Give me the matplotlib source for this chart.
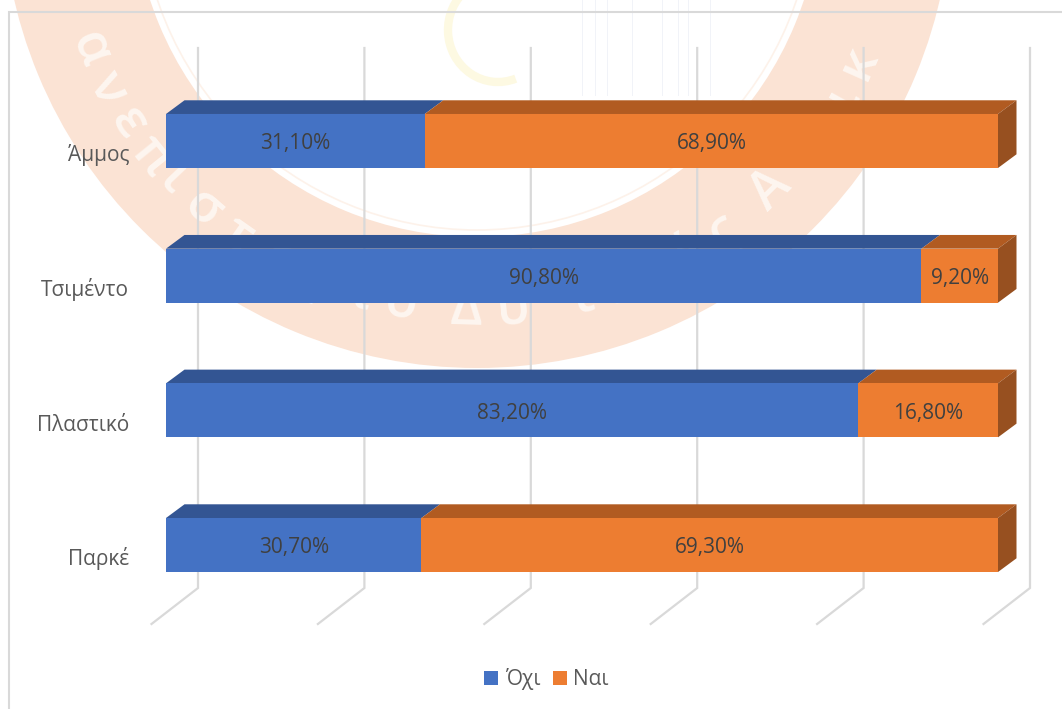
import numpy as np
import matplotlib
matplotlib.use("Agg")
import matplotlib.pyplot as plt
from matplotlib.patches import Polygon, Patch, Wedge, Arc, Circle
from matplotlib.transforms import ScaledTranslation

categories = ["Άμμος", "Τσιμέντο", "Πλαστικό", "Παρκέ"]
no_values = [31.1, 90.8, 83.2, 30.7]
yes_values = [68.9, 9.2, 16.8, 69.3]
series_names = ["Όχι", "Ναι"]
grid_values = [0, 20, 40, 60, 80, 100]

# watermark letters and their angle around the seal (deg, 0 = straight down)
seal_letters = list("ανεπιστήμιοΔυτικήςΑττικ")
seal_angles = [-68, -62, -56.5, -51, -46.5, -41, -35, -28, -21, -16, -10.5,
               -1.5, 5, 14.5, 19, 24, 30, 36, 44.6, 51, 56, 61, 66]
faint_x = [582, 595, 607, 632, 662, 678, 688, 710]

plt.rcParams["font.family"] = ["Open Sans", "DejaVu Sans"]

W, H = 1062, 709
fig = plt.figure(figsize=(W / 100, H / 100), dpi=100, facecolor="white")

# background layer in pixel coordinates: seal watermark and chart border
bg = fig.add_axes([0, 0, 1, 1], zorder=0)
bg.set_xlim(0, W)
bg.set_ylim(H, 0)
bg.axis("off")
cx, cy = 477, -107
bg.add_patch(Wedge((cx, cy), 475, 0, 360, width=131, fc="#fbe3d4", ec="none"))
bg.add_patch(Circle((cx, cy), 337, fc="none", ec="#fdf2ea", lw=1.2))
for letter, ang in zip(seal_letters, seal_angles):
    a = np.radians(ang)
    bg.text(cx + 418 * np.sin(a), cy + 418 * np.cos(a), letter, fontsize=38,
            color="#fef6f0", rotation=ang, rotation_mode="anchor",
            ha="center", va="center", fontweight="semibold")
bg.add_patch(Arc((498, 30), 100, 104, theta1=70, theta2=285, ec="#fdf9e2", lw=6))
for x in faint_x:
    bg.plot([x, x], [0, 95], color="#f1f3f8", lw=0.7)
bg.plot([9, 9, W], [H, 12, 12], color="#d9d9d9", lw=1.5, solid_joinstyle="miter")

# chart layer: 0-100 spans the front face of the bars
ax = fig.add_axes([166 / W, 0, 832 / W, 1], zorder=1)
ax.patch.set_alpha(0)
px_y = 134.67
ax.set_xlim(0, 100)
ax.set_ylim((545 - H) / px_y, 545 / px_y)
for s in ax.spines.values():
    s.set_visible(False)
ax.xaxis.set_visible(False)

y_pos = np.arange(len(categories))[::-1]
bar_h = 54 / px_y
dx = 18.5 / 8.32
dy = 13.7 / px_y

# back wall and floor gridlines
wall_dx = 32 / 8.32
floor_dx = -14.5 / 8.32
wall_top = (545 - 48) / px_y
wall_bot = (545 - 588) / px_y
floor_y = (545 - 624) / px_y
for g in grid_values:
    ax.plot([g + wall_dx, g + wall_dx, g + floor_dx], [wall_top, wall_bot, floor_y],
            color="#d9d9d9", lw=1.6, clip_on=False, zorder=1,
            solid_joinstyle="miter")

blue, blue_top = "#4472C4", "#335593"
orange, orange_top, orange_side = "#ED7D31", "#B15B21", "#975020"

ax.barh(y_pos, no_values, height=bar_h, color=blue, zorder=3)
ax.barh(y_pos, yes_values, left=no_values, height=bar_h, color=orange, zorder=3)

base = 8.5 / px_y  # label baseline below the bar centre
for y, n, v in zip(y_pos, no_values, yes_values):
    top = y + bar_h / 2
    bot = y - bar_h / 2
    end = n + v
    ax.add_patch(Polygon([(0, top), (n, top), (n + dx, top + dy), (dx, top + dy)],
                         fc=blue_top, ec="none", zorder=2, clip_on=False))
    ax.add_patch(Polygon([(n, top), (end, top), (end + dx, top + dy), (n + dx, top + dy)],
                         fc=orange_top, ec="none", zorder=2, clip_on=False))
    ax.add_patch(Polygon([(end, top), (end + dx, top + dy), (end + dx, bot + dy), (end, bot)],
                         fc=orange_side, ec="none", zorder=2, clip_on=False))
    ax.text(n / 2, y - base, f"{n:.2f}".replace(".", ",") + "%", ha="center",
            va="baseline", fontsize=15, color="#404040", zorder=4)
    ax.text(n + v / 2, y - base, f"{v:.2f}".replace(".", ",") + "%", ha="center",
            va="baseline", fontsize=15, color="#404040", zorder=4)

ax.set_yticks(y_pos)
ax.set_yticklabels(categories, fontsize=15, color="#595959", va="baseline")
ax.tick_params(axis="y", length=0, pad=26.5)
shift = ScaledTranslation(0, -20.5 / 100, fig.dpi_scale_trans)
for lab in ax.get_yticklabels():
    lab.set_transform(lab.get_transform() + shift)

handles = [Patch(fc=blue, label=series_names[0]), Patch(fc=orange, label=series_names[1])]
fig.legend(handles=handles, loc="center", bbox_to_anchor=(546.5 / W, 1 - 679 / H), ncol=2,
           frameon=False, fontsize=15, labelcolor="#595959", handlelength=0.67,
           handleheight=0.67, handletextpad=0.3, columnspacing=0.62, borderpad=0)

fig.savefig("out.png", dpi=100)
